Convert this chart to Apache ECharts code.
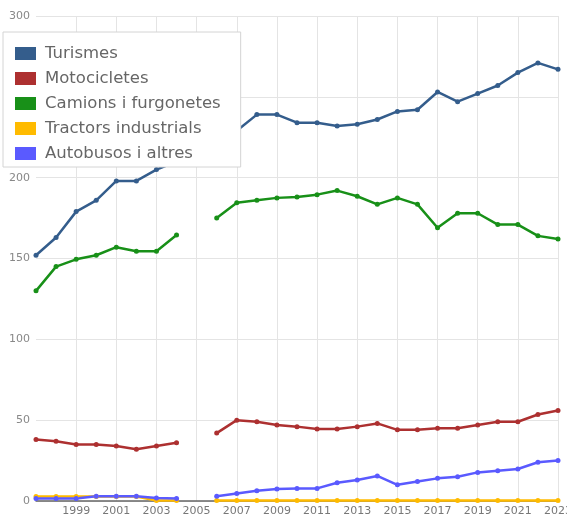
<!DOCTYPE html>
<html>
<head>
<meta charset="utf-8">
<script src="https://cdn.jsdelivr.net/npm/echarts@6/dist/echarts.min.js"></script>
<style>
  html, body { margin: 0; padding: 0; background: #fff; }
  #chart { width: 567px; height: 517px; }
</style>
</head>
<body>
<div id="chart"></div>
<script>
const years = ["1997","1998","1999","2000","2001","2002","2003","2004","2005","2006","2007","2008","2009","2010","2011","2012","2013","2014","2015","2016","2017","2018","2019","2020","2021","2022","2023"];
const turismes = [152,163,179,186,198,198,205,210,null,222,229,239,239,234,234,232,233,236,241,242,253,247,252,257,265,271,267];
const motocicletes = [38,37,35,35,34,32,34,36,null,42,50,49,47,46,44.5,44.5,46,48,44,44,45,45,47,49,49,53.5,56];
const camions = [130,145,149.5,152,157,154.5,154.5,164.5,null,175,184.5,186,187.5,188,189.5,192,188.5,183.5,187.5,183.5,169,178,178,171,171,164,162];
const tractors = [2.8,2.8,2.8,2.8,2.8,2.8,0.3,0.3,null,0.3,0.3,0.3,0.3,0.3,0.3,0.3,0.3,0.3,0.3,0.3,0.3,0.3,0.3,0.3,0.3,0.3,0.3];
const autobusos = [1.6,1.6,1.6,3,3,3,1.8,1.6,null,3,4.7,6.4,7.4,7.8,7.8,11.3,13,15.5,10,12,14,15,17.7,18.7,19.8,24,25];

const names = ["Turismes", "Motocicletes", "Camions i furgonetes", "Tractors industrials", "Autobusos i altres"];
const colors = ["#345d8c", "#ad3030", "#189018", "#ffbb00", "#5a5aff"];

const chart = echarts.init(document.getElementById("chart"));

function makeSeries(name, data, color) {
  return {
    name: name,
    type: "line",
    data: data,
    connectNulls: false,
    symbol: "circle",
    symbolSize: 5,
    itemStyle: { color: color },
    lineStyle: { color: color, width: 2.5 },
    emphasis: { disabled: true },
  };
}

chart.setOption({
  animation: false,
  color: colors,
  textStyle: { fontFamily: "DejaVu Sans" },
  grid: { left: 36, right: 9, top: 16, bottom: 16, containLabel: false, outerBoundsMode: "none" },
  legend: {
    orient: "vertical",
    left: 3,
    top: 32,
    padding: [13, 20, 5, 12],
    backgroundColor: "#fff",
    borderColor: "#d4d4d4",
    borderWidth: 1,
    icon: "rect",
    itemWidth: 21,
    itemHeight: 13,
    itemGap: 8,
    textStyle: { color: "#666", fontSize: 16.5, fontFamily: "DejaVu Sans", padding: [0, 0, 0, 4] },
    data: names,
  },
  xAxis: {
    type: "category",
    data: years,
    boundaryGap: false,
    axisLine: { lineStyle: { color: "#666", width: 1.5 } },
    axisTick: { show: false },
    axisLabel: {
      color: "#777",
      fontSize: 11,
      margin: 5,
      interval: (idx) => idx > 0 && idx % 2 === 0,
    },
    splitLine: { show: true, lineStyle: { color: "#e4e4e4" } },
  },
  yAxis: {
    type: "value",
    min: 0,
    max: 300,
    interval: 50,
    axisLine: { show: false },
    axisTick: { show: false },
    axisLabel: { color: "#888", fontSize: 11, margin: 6 },
    splitLine: { lineStyle: { color: "#e4e4e4" } },
  },
  series: [
    makeSeries(names[0], turismes, colors[0]),
    makeSeries(names[1], motocicletes, colors[1]),
    makeSeries(names[2], camions, colors[2]),
    makeSeries(names[3], tractors, colors[3]),
    makeSeries(names[4], autobusos, colors[4]),
  ],
});
</script>
</body>
</html>
